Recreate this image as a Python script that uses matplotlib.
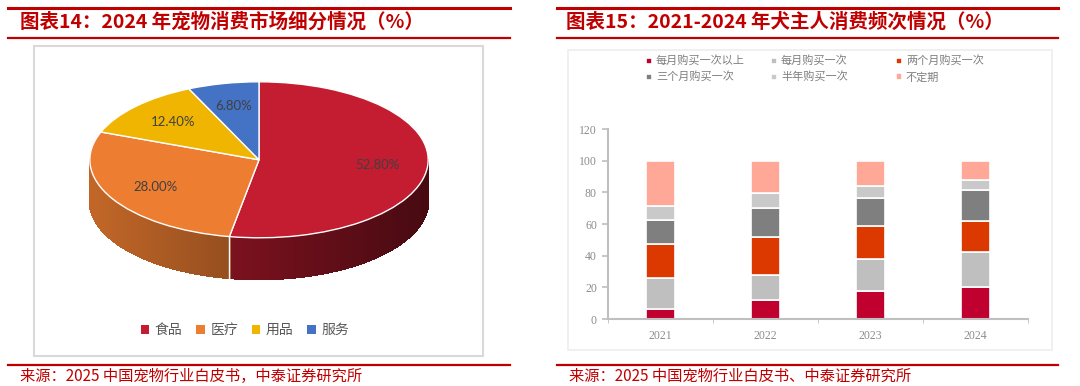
import matplotlib.pyplot as plt
import numpy as np
from matplotlib.collections import PolyCollection
from matplotlib.lines import Line2D
from matplotlib.patches import Rectangle, Patch

plt.rcParams['font.family'] = ['Noto Sans CJK SC', 'DejaVu Sans']

# left chart: 2024 market split
pie_labels = ['食品', '医疗', '用品', '服务']
pie_vals = [52.8, 28.0, 12.4, 6.8]
pie_colors = ['#c41c30', '#ed7d31', '#efb500', '#4472c4']

# right chart: purchase frequency of dog owners
years = ['2021', '2022', '2023', '2024']
freq_names = ['每月购买一次以上', '每月购买一次', '两个月购买一次',
              '三个月购买一次', '半年购买一次', '不定期']
freq_vals = [
    [6.5, 12.0, 17.9, 20.0],
    [19.1, 15.5, 20.1, 22.4],
    [21.9, 24.2, 20.8, 19.8],
    [15.3, 18.3, 17.9, 19.3],
    [8.4, 9.8, 7.3, 6.3],
    [28.8, 20.2, 16.0, 12.2],
]
freq_colors = ['#c0002f', '#bfbfbf', '#dc3900', '#7f7f7f', '#c9c9c9', '#ffa898']

W, H = 1080, 386
RED = '#c00000'


def box(l, t, r, b):
    return [l / W, 1 - b / H, (r - l) / W, (b - t) / H]


fig = plt.figure(figsize=(W / 100, H / 100), dpi=100)

# header / footer lines and frames
for x0, x1 in [(8, 510), (557, 1058)]:
    fig.add_artist(Line2D([x0 / W, x1 / W], [1 - 7.5 / H] * 2, color=RED, lw=2.2))
    fig.add_artist(Line2D([x0 / W, x1 / W], [1 - 37.5 / H] * 2, color=RED, lw=1.6))
    fig.add_artist(Line2D([x0 / W, x1 / W], [1 - 365 / H] * 2, color=RED, lw=1.6))

fig.add_artist(Rectangle((34 / W, 1 - 356 / H), 449 / W, 310 / H, transform=fig.transFigure,
                         fill=False, edgecolor='#d9d9d9', lw=1.5))
fig.add_artist(Rectangle((568 / W, 1 - 350 / H), 484 / W, 300 / H, transform=fig.transFigure,
                         fill=False, edgecolor='#eeeeee', lw=1.2))

fig.text(20 / W, 1 - 22 / H, '图表14：2024 年宠物消费市场细分情况（%）', color=RED,
         fontsize=14, fontweight='bold', va='center', style='italic')
fig.text(566 / W, 1 - 22 / H, '图表15：2021-2024 年犬主人消费频次情况（%）', color=RED,
         fontsize=14, fontweight='bold', va='center', style='italic')
fig.text(20 / W, 1 - 376 / H, '来源：2025 中国宠物行业白皮书，中泰证券研究所', color=RED,
         fontsize=11, va='center')
fig.text(569 / W, 1 - 376 / H, '来源：2025 中国宠物行业白皮书、中泰证券研究所', color=RED,
         fontsize=11, va='center')

# ---- 3D-looking pie ----
ax = fig.add_axes(box(56, 74, 462, 308))
depth = 0.53
vals = np.array(pie_vals)
bounds = 90 - 360 * np.concatenate([[0], np.cumsum(vals) / vals.sum()])
polys, fcols = [], []
for i in range(len(vals)):
    t = np.radians(np.linspace(bounds[i], bounds[i + 1], 300))
    base = np.array(plt.matplotlib.colors.to_rgb(pie_colors[i]))
    for ta, tb in zip(t[:-1], t[1:]):
        if np.sin(ta) > 1e-6 or np.sin(tb) > 1e-6:
            continue
        xa, ya, xb, yb = np.cos(ta), np.sin(ta), np.cos(tb), np.sin(tb)
        polys.append([(xa, ya), (xb, yb), (xb, yb - depth), (xa, ya - depth)])
        f = 0.82 - 0.23 * ((xa + xb) / 2 + 1)
        fcols.append(np.clip(base * f, 0, 1))
side = PolyCollection(polys, facecolors=fcols, edgecolors=fcols, linewidths=1.0,
                      antialiaseds=False, zorder=1)
ax.add_collection(side)
for b in bounds:
    r = np.radians(b)
    if np.sin(r) < 0:
        ax.plot([np.cos(r)] * 2, [np.sin(r), np.sin(r) - depth], color='white', lw=1, zorder=2)

wedges, _, autotexts = ax.pie(pie_vals, colors=pie_colors, startangle=90, counterclock=False,
                              autopct='%.2f%%', pctdistance=0.7,
                              wedgeprops=dict(edgecolor='white', linewidth=1, zorder=3),
                              textprops=dict(color='#404040', fontsize=9.5, family='Lato'))
for tx in autotexts:
    tx.set_zorder(4)
ax.set_aspect('auto')
ax.set_xlim(-1.2, 1.2)
ax.set_ylim(-1.9, 1.1)
ax.axis('off')

handles = [Patch(facecolor=c) for c in pie_colors]
fig.legend(handles, pie_labels, loc='center', bbox_to_anchor=(245 / W, 1 - 330 / H), ncol=4,
           frameon=False, fontsize=10, handlelength=0.6, handleheight=0.6, handletextpad=0.4,
           columnspacing=1.0, labelcolor='#595959')

# ---- stacked bars ----
bx = fig.add_axes(box(608, 129, 1028, 319))
x = np.arange(len(years))
bottom = np.zeros(len(years))
bars = []
for name, v, c in zip(freq_names, freq_vals, freq_colors):
    b = bx.bar(x, v, 0.28, bottom=bottom, color=c, edgecolor='white', linewidth=1.2, label=name)
    bars.append(b)
    bottom += np.array(v)

bx.set_xlim(-0.5, 3.5)
bx.set_ylim(0, 120)
bx.set_yticks(range(0, 121, 20))
bx.set_xticks(x)
bx.set_xticklabels(years)
bx.set_xticks(np.arange(-0.5, 3.6, 1), minor=True)
bx.tick_params(axis='x', which='major', length=0, pad=8)
bx.tick_params(axis='x', which='minor', length=3, color='#bfbfbf', direction='out')
bx.tick_params(axis='y', length=4, color='#bfbfbf', width=1.2, pad=4)
for lab in bx.get_xticklabels() + bx.get_yticklabels():
    lab.set_family('Liberation Serif')
    lab.set_color('#8c8c8c')
    lab.set_fontsize(8.5)
for s in ['top', 'right']:
    bx.spines[s].set_visible(False)
for s in ['left', 'bottom']:
    bx.spines[s].set_color('#bfbfbf')
    bx.spines[s].set_linewidth(1.5)

for j, xpos in enumerate([646, 771, 896]):
    leg = fig.legend([bars[j], bars[j + 3]], [freq_names[j], freq_names[j + 3]],
                     loc='upper left', bbox_to_anchor=(xpos / W, 1 - 56 / H), frameon=False,
                     fontsize=8, handlelength=0.5, handleheight=0.5, handletextpad=0.4,
                     labelspacing=0.45, labelcolor='#7f7f7f', borderpad=0, borderaxespad=0)

fig.savefig('out.png', dpi=100)
